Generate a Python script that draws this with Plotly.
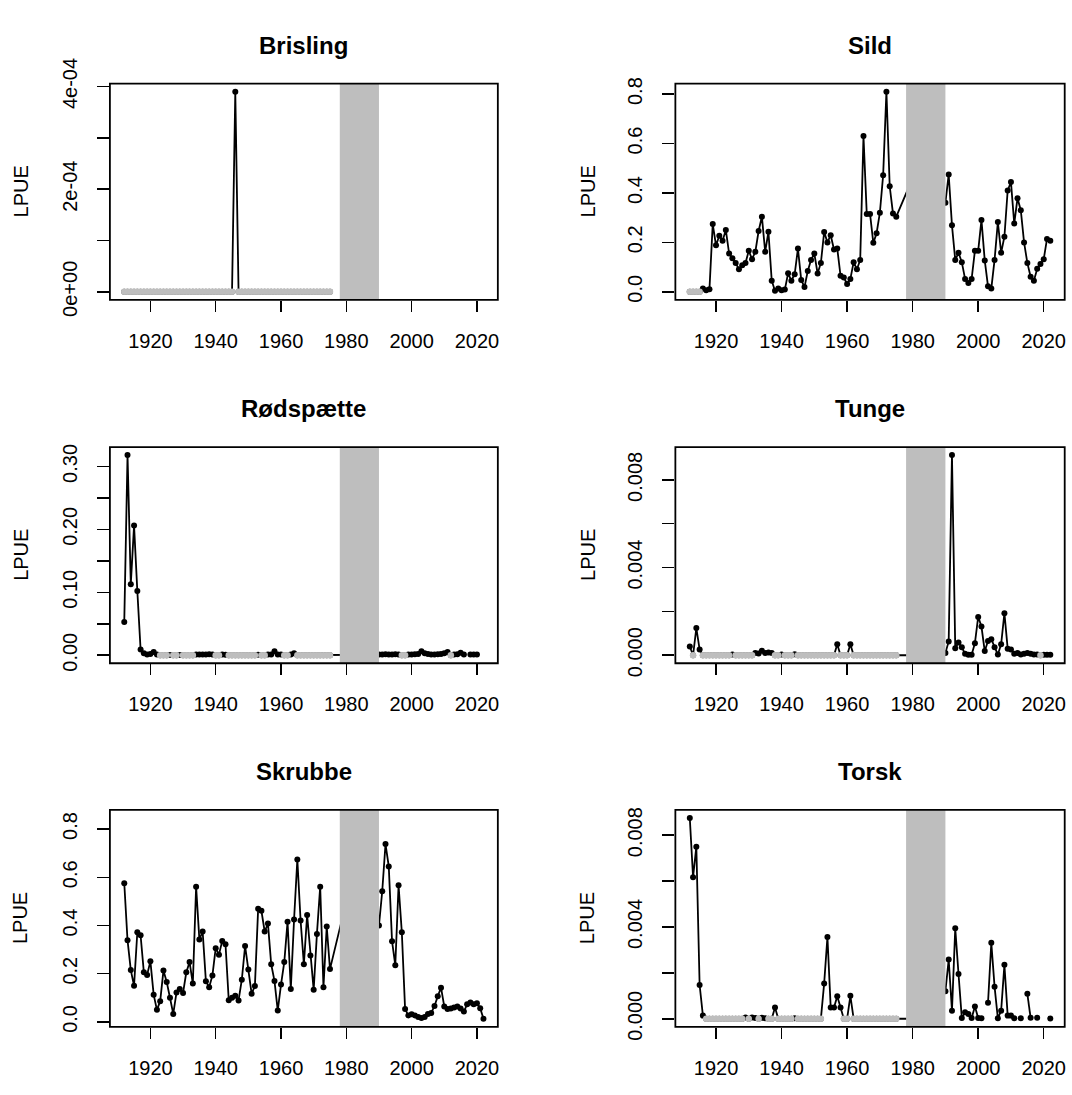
import plotly.graph_objects as go

# ---------------- data ----------------
years_pre = list(range(1912, 1976))      # 1912..1975
years_gap = [1980, 1985]                  # values hidden under the grey band
years_post = list(range(1990, 2023))      # 1990..2022

species = ["Brisling", "Sild", "Rødspætte", "Tunge", "Skrubbe", "Torsk"]

brisling_pre = [0] * 34 + [0.00039] + [0] * 29
brisling_gap = [None, None]
brisling_post = [None] * 33

sild_pre = [0, 0, 0, 0, 0.013, 0.006, 0.01, 0.274,
            0.188, 0.227, 0.207, 0.25, 0.155, 0.136, 0.117, 0.091, 0.107, 0.117,
            0.166, 0.132, 0.162, 0.246, 0.304, 0.162, 0.243, 0.045, 0.004, 0.013,
            0.006, 0.009, 0.075, 0.045, 0.071, 0.175, 0.048, 0.019, 0.084, 0.129,
            0.155, 0.074, 0.117, 0.242, 0.2, 0.229, 0.171, 0.175, 0.065, 0.058,
            0.032, 0.052, 0.12, 0.091, 0.129, 0.63, 0.315, 0.315, 0.198, 0.237,
            0.32, 0.472, 0.81, 0.427, 0.317, 0.304]
sild_gap = [0.46, 0.40]
sild_post = [0.36, 0.475, 0.269, 0.129, 0.158, 0.12, 0.052, 0.036, 0.052, 0.166,
             0.166, 0.291, 0.127, 0.022, 0.013, 0.129, 0.282, 0.158, 0.223, 0.41,
             0.444, 0.276, 0.379, 0.33, 0.2, 0.117, 0.061, 0.045, 0.093, 0.113,
             0.132, 0.214, 0.207]

rodspaette_pre = [0.053, 0.318, 0.113, 0.206, 0.102, 0.009, 0.003, 0.001,
                  0.002, 0.005, 0.001, 0, 0, 0, 0.0004, 0, 0, 0.0004,
                  0, 0, 0, 0, 0.001, 0.001, 0.001, 0.001, 0.0015, 0.001,
                  0, 0, 0.001, 0.0008, 0, 0, 0, 0, 0, 0,
                  0, 0, 0, 0.0008, 0, 0, 0.001, 0.001, 0.0065, 0.001,
                  0.001, 0, 0, 0.001, 0.003, 0, 0, 0, 0, 0,
                  0, 0, 0, 0, 0, 0]
rodspaette_gap = [0, 0]
rodspaette_post = [0.001, 0.001, 0.0015, 0.001, 0.001, 0.0015, 0.001, 0, 0, 0.001,
                   0.001, 0.0015, 0.002, 0.0065, 0.003, 0.002, 0.001, 0.001, 0.0015, 0.002,
                   0.003, 0.005, 0, 0.001, 0.0015, 0.004, 0.001, None, 0.001, 0.001,
                   0.001, None, None]

tunge_pre = [0.0004, 0, 0.00124, 0.00026, 0, 0, 0, 0,
             0, 0, 0, 0, 0, 0.00003, 0, 0, 0, 0,
             0, 0, 0.0001, 0.00008, 0.0002, 0.0001, 0.00012, 0.0001, 0, 0,
             0.00003, 0, 0, 0, 0.00004, 0, 0, 0, 0, 0,
             0, 0, 0, 0, 0, 0, 0, 0.0005, 0, 0,
             0, 0.0005, 0, 0, 0, 0, 0, 0, 0, 0,
             0, 0, 0, 0, 0, 0]
tunge_gap = [0, 0]
tunge_post = [0.0001, 0.00063, 0.00913, 0.00032, 0.00058, 0.00036, 0.00007, 0.00002, 0.00002, 0.00055,
              0.00175, 0.00131, 0.00019, 0.00065, 0.00073, 0.00036, 0.00003, 0.0005, 0.00192, 0.0003,
              0.00026, 0.00007, 0.0001, 0.00003, 0.00007, 0.0001, 0.00007, 0.00003, 0.00003, 0,
              0.00002, 0.00002, 0.00002]

skrubbe_pre = [0.575, 0.339, 0.215, 0.150, 0.372, 0.359, 0.206, 0.195,
               0.252, 0.113, 0.050, 0.086, 0.213, 0.166, 0.10, 0.033, 0.122, 0.136,
               0.12, 0.206, 0.248, 0.159, 0.561, 0.342, 0.375, 0.169, 0.144, 0.193,
               0.306, 0.279, 0.336, 0.322, 0.090, 0.10, 0.109, 0.089, 0.175, 0.315,
               0.217, 0.117, 0.149, 0.469, 0.461, 0.375, 0.408, 0.239, 0.170, 0.047,
               0.155, 0.248, 0.415, 0.137, 0.425, 0.674, 0.421, 0.239, 0.443, 0.275,
               0.133, 0.365, 0.561, 0.144, 0.396, 0.219]
skrubbe_gap = [0.50, 0.846]
skrubbe_post = [0.40, 0.542, 0.738, 0.645, 0.335, 0.235, 0.567, 0.372, 0.053, 0.027,
                0.032, 0.027, 0.02, 0.016, 0.02, 0.033, 0.037, 0.066, 0.106, 0.142,
                0.064, 0.053, 0.056, 0.06, 0.064, 0.056, 0.043, 0.073, 0.08, 0.073,
                0.077, 0.057, 0.013]

torsk_pre = [0.00875, 0.00617, 0.0075, 0.00147, 0.00014, 0, 0, 0,
             0, 0, 0, 0, 0, 0, 0, 0, 0, 0.00005,
             0, 0.00005, 0.00003, 0, 0.00004, 0.00002, 0, 0, 0.00049, 0,
             0, 0, 0, 0, 0.00002, 0, 0, 0, 0, 0,
             0, 0, 0, 0.00154, 0.00356, 0.00049, 0.00049, 0.00098, 0.00049, 0,
             0, 0.001, 0, 0, 0, 0, 0, 0, 0, 0,
             0, 0, 0, 0, 0, 0]
torsk_gap = [0, 0]
torsk_post = [0.0012, 0.00258, 0.00035, 0.00394, 0.00195, 0.00003, 0.00028, 0.00021, 0.00003, 0.00053,
              0.00003, 0.00002, None, 0.0007, 0.00331, 0.0014, 0.00002, 0.00035, 0.00235, 0.00014,
              0.00014, 0.00002, None, 0.00002, None, 0.00109, 0.00004, None, 0.00004, None,
              None, None, 0.00001]

series = {
    "Brisling": (brisling_pre, brisling_gap, brisling_post),
    "Sild": (sild_pre, sild_gap, sild_post),
    "Rødspætte": (rodspaette_pre, rodspaette_gap, rodspaette_post),
    "Tunge": (tunge_pre, tunge_gap, tunge_post),
    "Skrubbe": (skrubbe_pre, skrubbe_gap, skrubbe_post),
    "Torsk": (torsk_pre, torsk_gap, torsk_post),
}

# y tick values and labels (R drops every other label)
y_ticks = {
    "Brisling": ([0, 1e-4, 2e-4, 3e-4, 4e-4], ["0e+00", "", "2e-04", "", "4e-04"]),
    "Sild": ([0, 0.2, 0.4, 0.6, 0.8], ["0.0", "0.2", "0.4", "0.6", "0.8"]),
    "Rødspætte": ([0, 0.05, 0.10, 0.15, 0.20, 0.25, 0.30],
                  ["0.00", "", "0.10", "", "0.20", "", "0.30"]),
    "Tunge": ([0, 0.002, 0.004, 0.006, 0.008], ["0.000", "", "0.004", "", "0.008"]),
    "Skrubbe": ([0, 0.2, 0.4, 0.6, 0.8], ["0.0", "0.2", "0.4", "0.6", "0.8"]),
    "Torsk": ([0, 0.002, 0.004, 0.006, 0.008], ["0.000", "", "0.004", "", "0.008"]),
}
x_ticks = [1920, 1940, 1960, 1980, 2000, 2020]
band = (1978, 1990)

# ---------------- layout geometry ----------------
W, H = 1072, 1095
col_px = [(110, 498.3), (676, 1065.7)]
row_px = [(60, 285), (438.3, 663.3), (816, 1041.7)]
title_y_px = [20, 398, 776]
lpue_x_px = [20.7, 588.3]

FONT = "Liberation Sans, Arial, sans-serif"
GREY = "#BEBEBE"

fig = go.Figure()
layout = dict(
    width=W, height=H, margin=dict(l=0, r=0, t=0, b=0),
    paper_bgcolor="white", plot_bgcolor="white", showlegend=False,
    font=dict(family=FONT, color="black", size=20),
)
shapes, annotations = [], []

all_years = years_pre + years_gap + years_post
xmin, xmax = min(years_pre), max(years_post)
xpad = 0.04 * (xmax - xmin)

for i, name in enumerate(species):
    r, c = divmod(i, 2)
    idx = "" if i == 0 else str(i + 1)
    xa, ya = "x" + idx, "y" + idx
    pre, gap, post = series[name]
    vals = pre + gap + post

    fig.add_trace(go.Scatter(
        x=all_years, y=vals, xaxis=xa, yaxis=ya, mode="lines+markers",
        line=dict(color="black", width=1.8),
        marker=dict(color="black", size=6),
        connectgaps=False, hoverinfo="skip"))
    zx = [yr for yr, v in zip(all_years, vals) if v == 0]
    zy = [0 for _ in zx]
    fig.add_trace(go.Scatter(
        x=zx, y=zy, xaxis=xa, yaxis=ya, mode="markers",
        marker=dict(color=GREY, size=6.5), hoverinfo="skip"))

    present = [v for v in vals if v is not None]
    vmax, vmin = max(present), min(present)
    ypad = 0.04 * (vmax - vmin)

    x0p, x1p = col_px[c]
    y0p, y1p = row_px[r]
    tv, tt = y_ticks[name]
    layout["xaxis" + idx] = dict(
        domain=[x0p / W, x1p / W], anchor=ya,
        range=[xmin - xpad, xmax + xpad],
        tickvals=x_ticks, ticktext=[str(t) for t in x_ticks],
        ticks="outside", ticklen=11, tickwidth=1.5, tickcolor="black",
        showgrid=False, zeroline=False, showline=False,
        tickfont=dict(size=20, family=FONT, color="black"),
        ticklabelstandoff=12,
    )
    layout["yaxis" + idx] = dict(
        domain=[1 - y1p / H, 1 - y0p / H], anchor=xa,
        range=[vmin - ypad, vmax + ypad],
        tickvals=tv, ticktext=tt, tickangle=-90,
        ticks="outside", ticklen=12, tickwidth=1.5, tickcolor="black",
        showgrid=False, zeroline=False, showline=False,
        tickfont=dict(size=20, family=FONT, color="black"),
        ticklabelstandoff=12,
    )
    shapes.append(dict(type="rect", xref=xa, yref=ya + " domain",
                       x0=band[0], x1=band[1], y0=0, y1=1,
                       fillcolor=GREY, line=dict(width=0), layer="above"))
    shapes.append(dict(type="rect", xref=xa + " domain", yref=ya + " domain",
                       x0=0, x1=1, y0=0, y1=1, fillcolor="rgba(0,0,0,0)",
                       line=dict(color="black", width=1.8), layer="above"))
    annotations.append(dict(text="<b>" + name + "</b>", xref="paper", yref="paper",
                            x=(x0p + x1p) / 2 / W, y=1 - title_y_px[r] / H,
                            xanchor="center", yanchor="middle", showarrow=False,
                            font=dict(size=24, family=FONT, color="black")))
    annotations.append(dict(text="LPUE", xref="paper", yref="paper",
                            x=lpue_x_px[c] / W, y=1 - (y0p + y1p) / 2 / H,
                            xanchor="center", yanchor="middle", textangle=-90,
                            showarrow=False,
                            font=dict(size=20, family=FONT, color="black")))

layout["shapes"] = shapes
layout["annotations"] = annotations
fig.update_layout(**layout)
fig.write_html("out.html",
               config={"displayModeBar": False, "staticPlot": True},
               post_script="document.body.style.margin='0px';"
                           "document.body.style.padding='0px';"
                           "document.body.style.overflow='hidden';")
